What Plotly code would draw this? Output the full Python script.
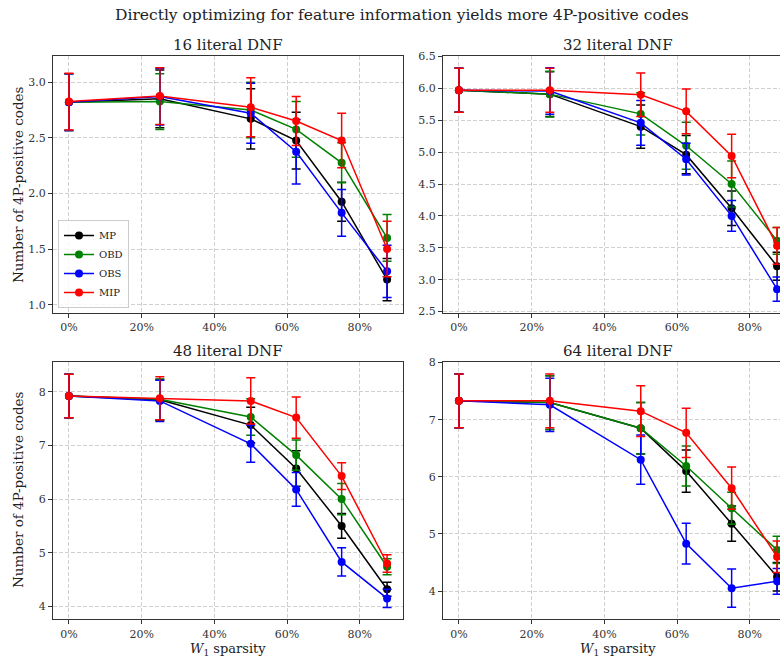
import plotly.graph_objects as go

# ---------------- data ----------------
sparsity = [0, 25, 50, 62.5, 75, 87.5]
methods = ["MP", "OBD", "OBS", "MIP"]
colors = {"MP": "#000000", "OBD": "#008000", "OBS": "#0000ff", "MIP": "#ff0000"}
panel_titles = ["16 literal DNF", "32 literal DNF", "48 literal DNF", "64 literal DNF"]
x_tick_vals = [0, 20, 40, 60, 80]
x_tick_text = ["0%", "20%", "40%", "60%", "80%"]

# 16 literal DNF
mean_16 = {
    "MP":  [2.82, 2.85, 2.67, 2.475, 1.925, 1.225],
    "OBD": [2.82, 2.825, 2.75, 2.575, 2.275, 1.60],
    "OBS": [2.82, 2.87, 2.72, 2.375, 1.825, 1.30],
    "MIP": [2.825, 2.875, 2.775, 2.65, 2.475, 1.50],
}
err_16 = {
    "MP":  [0.255, 0.26, 0.27, 0.255, 0.175, 0.19],
    "OBD": [0.255, 0.25, 0.25, 0.25, 0.18, 0.21],
    "OBS": [0.255, 0.255, 0.27, 0.29, 0.21, 0.235],
    "MIP": [0.255, 0.255, 0.265, 0.22, 0.245, 0.25],
}
# 32 literal DNF
mean_32 = {
    "MP":  [5.97, 5.91, 5.40, 4.96, 4.12, 3.21],
    "OBD": [5.97, 5.91, 5.60, 5.10, 4.50, 3.61],
    "OBS": [5.97, 5.96, 5.46, 4.89, 4.00, 2.85],
    "MIP": [5.97, 5.97, 5.90, 5.64, 4.94, 3.53],
}
err_32 = {
    "MP":  [0.345, 0.35, 0.34, 0.30, 0.27, 0.22],
    "OBD": [0.345, 0.36, 0.33, 0.37, 0.36, 0.21],
    "OBS": [0.345, 0.365, 0.35, 0.25, 0.24, 0.19],
    "MIP": [0.345, 0.345, 0.34, 0.35, 0.34, 0.29],
}
# 48 literal DNF
mean_48 = {
    "MP":  [7.92, 7.85, 7.38, 6.57, 5.50, 4.32],
    "OBD": [7.92, 7.86, 7.53, 6.82, 6.00, 4.74],
    "OBS": [7.92, 7.83, 7.03, 6.18, 4.83, 4.15],
    "MIP": [7.92, 7.88, 7.83, 7.52, 6.43, 4.80],
}
err_48 = {
    "MP":  [0.405, 0.38, 0.33, 0.33, 0.23, 0.13],
    "OBD": [0.405, 0.38, 0.34, 0.28, 0.29, 0.15],
    "OBS": [0.405, 0.385, 0.345, 0.315, 0.265, 0.17],
    "MIP": [0.405, 0.40, 0.43, 0.385, 0.25, 0.165],
}
# 64 literal DNF
mean_64 = {
    "MP":  [7.33, 7.30, 6.85, 6.10, 5.18, 4.25],
    "OBD": [7.33, 7.30, 6.85, 6.19, 5.45, 4.72],
    "OBS": [7.33, 7.26, 6.30, 4.83, 4.05, 4.17],
    "MIP": [7.33, 7.33, 7.15, 6.77, 5.80, 4.60],
}
err_64 = {
    "MP":  [0.47, 0.47, 0.45, 0.37, 0.31, 0.25],
    "OBD": [0.47, 0.47, 0.45, 0.35, 0.28, 0.24],
    "OBS": [0.47, 0.465, 0.43, 0.355, 0.335, 0.225],
    "MIP": [0.47, 0.47, 0.445, 0.43, 0.37, 0.275],
}

panels = [(mean_16, err_16), (mean_32, err_32), (mean_48, err_48), (mean_64, err_64)]
y_ranges = [[0.925, 3.235], [2.477, 6.508], [3.76, 8.55], [3.505, 8.005]]
y_ticks = [[1.0, 1.5, 2.0, 2.5, 3.0],
           [2.5, 3.0, 3.5, 4.0, 4.5, 5.0, 5.5, 6.0, 6.5],
           [4, 5, 6, 7, 8],
           [4, 5, 6, 7, 8]]

# ---------------- layout geometry (pixels) ----------------
W, H = 780, 658
FONT = "DejaVu Serif"
x_dom = [[53 / W, 403 / W], [443 / W, 1.0]]
y_dom = [[1 - 313 / H, 1 - 56 / H], [1 - 619.3 / H, 1 - 362.3 / H]]
x_range_left = [-4.375, 91.875]
x_range_right = [-4.375, -4.375 + (W - 443) * 96.25 / 350]

fig = go.Figure()
axis_ids = ["", "2", "3", "4"]
for i, (means, errs) in enumerate(panels):
    ax = axis_ids[i]
    for m in methods:
        fig.add_trace(go.Scatter(
            x=sparsity, y=means[m], name=m, mode="lines+markers",
            line=dict(color=colors[m], width=1.5),
            marker=dict(color=colors[m], size=8),
            error_y=dict(type="data", array=errs[m], visible=True,
                         color=colors[m], thickness=1.5, width=4.5),
            xaxis="x" + ax, yaxis="y" + ax,
            showlegend=(i == 0), legendgroup=m,
        ))

common_axis = dict(
    showline=True, linecolor="#333333", linewidth=1.2,
    ticks="outside", ticklen=4, tickcolor="#333333",
    showgrid=True, gridcolor="#d0d0d0", griddash="4px,2px", gridwidth=1,
    zeroline=False,
    tickfont=dict(family=FONT, size=11, color="#333333"),
)

layout = dict(
    width=W, height=H, margin=dict(l=0, r=0, t=0, b=0, autoexpand=False),
    paper_bgcolor="white", plot_bgcolor="white",
    font=dict(family=FONT, color="#222222"),
    showlegend=True,
    legend=dict(x=58 / W, y=1 - 308 / H, xanchor="left", yanchor="bottom",
                bgcolor="rgba(255,255,255,0.8)", bordercolor="#cccccc", borderwidth=1,
                font=dict(family=FONT, size=10, color="#222222"),
                itemwidth=30, tracegroupgap=0),
)

for i in range(4):
    ax = axis_ids[i]
    col = i % 2
    row = i // 2
    xa = dict(common_axis, domain=x_dom[col],
              range=x_range_left if col == 0 else x_range_right,
              tickvals=x_tick_vals, ticktext=x_tick_text,
              anchor="y" + ax, mirror=True)
    ya = dict(common_axis, domain=y_dom[row], range=y_ranges[i],
              tickvals=y_ticks[i], anchor="x" + ax,
              mirror=(col == 0))
    if i in (0, 1):
        ya["tickformat"] = ".1f"
    layout["xaxis" + ax] = xa
    layout["yaxis" + ax] = ya

annotations = [
    dict(text="Directly optimizing for feature information yields more 4P-positive codes",
         x=402 / W, y=1 - 15 / H, xref="paper", yref="paper", showarrow=False,
         xanchor="center", yanchor="middle", font=dict(family=FONT, size=15.5, color="#222222")),
]
title_pos = [(228, 45), (618, 45), (228, 351), (618, 351)]
for t, (px, py) in zip(panel_titles, title_pos):
    annotations.append(dict(text=t, x=px / W, y=1 - py / H, xref="paper", yref="paper",
                            showarrow=False, xanchor="center", yanchor="middle",
                            font=dict(family=FONT, size=15, color="#222222")))
for py in (185, 490):
    annotations.append(dict(text="Number of 4P-positive codes", x=18 / W, y=1 - py / H,
                            xref="paper", yref="paper", showarrow=False, textangle=-90,
                            xanchor="center", yanchor="middle",
                            font=dict(family=FONT, size=13.5, color="#222222")))
for px in (228, 618):
    annotations.append(dict(text="<i>W</i><sub>1</sub> sparsity", x=px / W, y=1 - 649 / H,
                            xref="paper", yref="paper", showarrow=False,
                            xanchor="center", yanchor="middle",
                            font=dict(family=FONT, size=13, color="#222222")))
layout["annotations"] = annotations

fig.update_layout(**layout)
fig.write_html("out.html")
